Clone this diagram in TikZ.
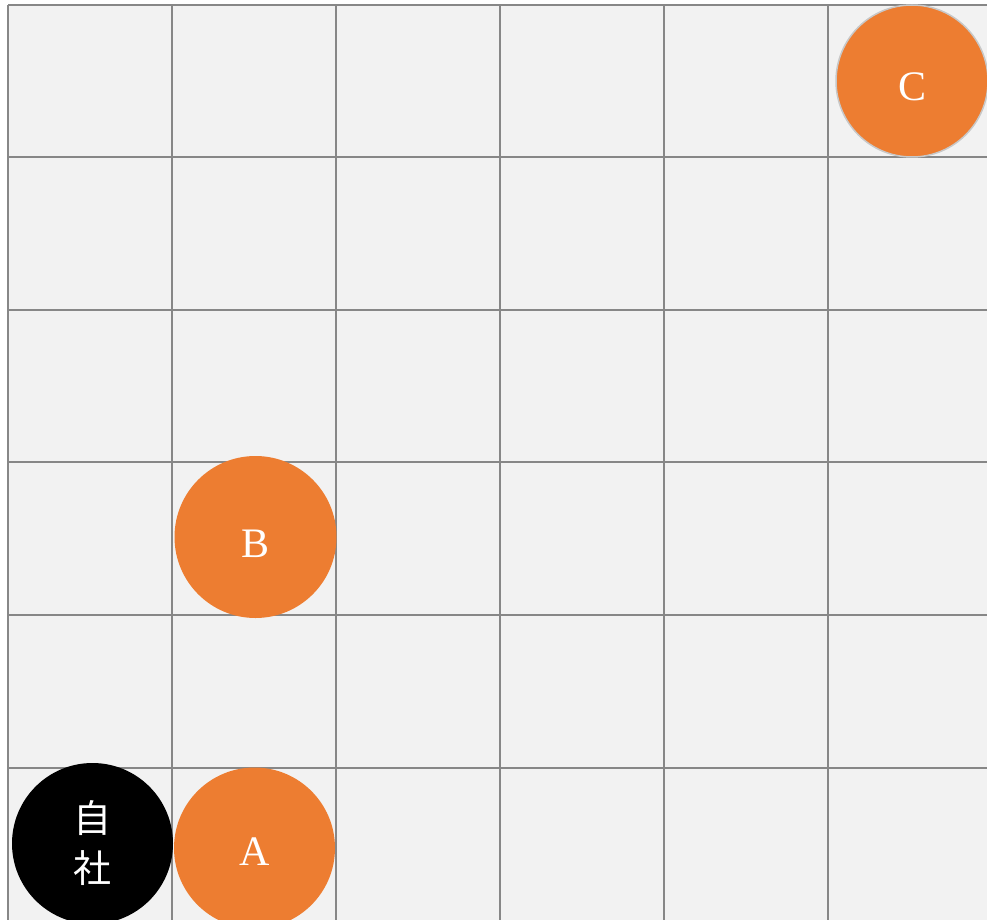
\documentclass[tikz,border=0pt]{standalone}
\usepackage{fontspec}
\setmainfont{Liberation Serif}
\newfontfamily\cjk{Noto Sans CJK JP}
\definecolor{cellbg}{HTML}{F2F2F2}
\definecolor{gridgray}{HTML}{878787}
\definecolor{orangefill}{HTML}{ED7D31}
\definecolor{ringgray}{HTML}{C8C8C8}
\begin{document}
\begin{tikzpicture}[x=1pt,y=-1pt,
  gridline/.style={draw=gridgray,line width=2.2pt},
  firm/.style={circle,fill=orangefill,inner sep=0pt,minimum size=#1},
  firmtext/.style={text=white,font=\fontsize{42}{50}\selectfont,inner sep=0pt},
  own/.style={circle,fill=black,inner sep=0pt,minimum size=161pt,text=white,align=center,font=\cjk\fontsize{38}{50}\selectfont}]
\useasboundingbox (0,0) rectangle (987,920);
\clip (0,0) rectangle (987,920);
\fill[white] (0,0) rectangle (987,920);
\fill[cellbg] (8,5) rectangle (1000,930);
\foreach \x in {8,172,336,500,664,828} {\draw[gridline] (\x,5) -- (\x,930);}
\foreach \y in {5,157,310,462,615,768} {\draw[gridline] (8,\y) -- (1000,\y);}
\node[firm=152pt,draw=ringgray,line width=1.5pt] (C) at (912,81) {};
\node[firmtext] (Ct) at (912,87) {C};
\node[firm=162pt] (B) at (255.5,537) {};
\node[firmtext] (Bt) at (255.5,544) {B};
\node[firm=161pt] (A) at (254.5,848) {};
\node[firmtext] (At) at (254.5,852) {A};
\node[own] (own) at (92.5,843.5) {自\\社};
\end{tikzpicture}
\end{document}
